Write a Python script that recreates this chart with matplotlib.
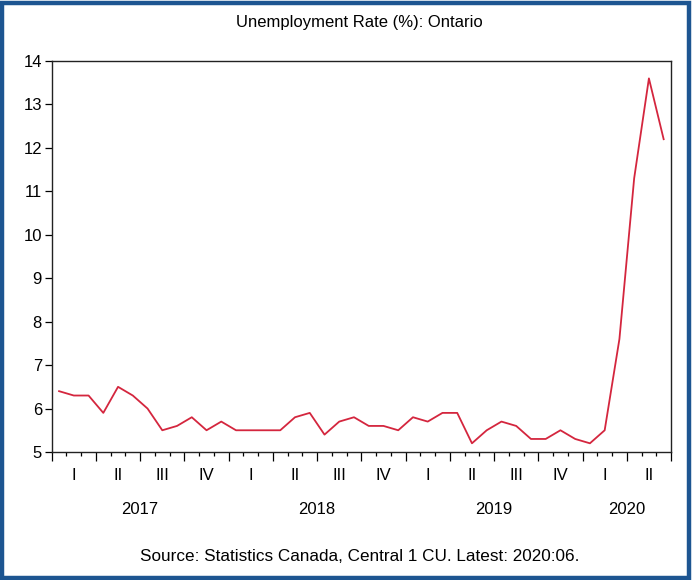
import numpy as np
import matplotlib
matplotlib.use("Agg")
import matplotlib.pyplot as plt
from matplotlib.patches import Rectangle
from matplotlib.transforms import blended_transform_factory

plt.rcParams['font.family'] = ['Liberation Sans', 'DejaVu Sans']

# monthly unemployment rate, 2017:01 - 2020:06
rate_2017 = [6.4, 6.3, 6.3, 5.9, 6.5, 6.3, 6.0, 5.5, 5.6, 5.8, 5.5, 5.7]
rate_2018 = [5.5, 5.5, 5.5, 5.5, 5.8, 5.9, 5.4, 5.7, 5.8, 5.6, 5.6, 5.5]
rate_2019 = [5.8, 5.7, 5.9, 5.9, 5.2, 5.5, 5.7, 5.6, 5.3, 5.3, 5.5, 5.3]
rate_2020 = [5.2, 5.5, 7.6, 11.3, 13.6, 12.2]
rate = rate_2017 + rate_2018 + rate_2019 + rate_2020

years = ['2017', '2018', '2019', '2020']
quarters = ['I', 'II', 'III', 'IV']
title = 'Unemployment Rate (%): Ontario'
source = 'Source: Statistics Canada, Central 1 CU. Latest: 2020:06.'

n = len(rate)
x = np.arange(n) + 0.5

fig = plt.figure(figsize=(6.92, 5.8), dpi=100)
ax = fig.add_axes([0.0747, 0.2207, 0.895, 0.6741])

ax.plot(x, rate, color='#d4263e', lw=1.3)

ax.set_xlim(0, n)
ax.set_ylim(5, 14)
ax.set_yticks(range(5, 15))
ax.tick_params(axis='y', direction='out', length=5, width=0.9, labelsize=12, pad=2)

ax.set_xticks(np.arange(0, n + 1, 3))
ax.set_xticks(np.arange(0, n + 1, 1), minor=True)
ax.tick_params(axis='x', which='major', direction='out', length=6.5, width=0.9, labelbottom=False)
ax.tick_params(axis='x', which='minor', direction='out', length=3, width=0.9)

for s in ax.spines.values():
    s.set_linewidth(1.0)
    s.set_color('#222222')

tr = blended_transform_factory(ax.transData, ax.transAxes)
nq = n // 3
for q in range(nq):
    ax.text(q * 3 + 1.5, -0.059, quarters[q % 4], transform=tr,
            ha='center', va='center', fontsize=12)
for i, yr in enumerate(years):
    start = i * 12
    end = min(start + 12, n)
    ax.text((start + end) / 2, -0.148, yr, transform=tr,
            ha='center', va='center', fontsize=12)

fig.text(0.52, 0.962, title, ha='center', va='center', fontsize=12)
fig.text(0.52, 0.041, source, ha='center', va='center', fontsize=12.3)

fig.patches.append(Rectangle((0.003, 0.004), 0.992, 0.99, transform=fig.transFigure,
                             fill=False, edgecolor='#1d5591', linewidth=3.2))

fig.savefig('out.png', dpi=100)
